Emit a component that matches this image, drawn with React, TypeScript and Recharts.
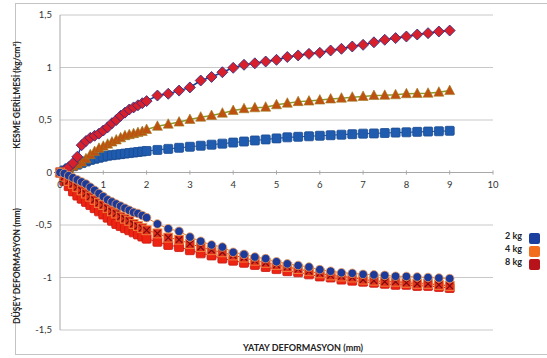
import React from 'react';
import { LineChart, Line, XAxis, YAxis, CartesianGrid, ReferenceLine, ReferenceDot } from 'recharts';

// yatay deformasyon (mm)
const xValues = [
  0, 0.1, 0.2, 0.3, 0.4, 0.5, 0.6, 0.7, 0.8, 0.9, 1, 1.1, 1.2, 1.3, 1.4, 1.5, 1.6, 1.7, 1.8, 1.9, 2,
  2.25, 2.5, 2.75, 3, 3.25, 3.5, 3.75, 4, 4.25, 4.5, 4.75, 5, 5.25, 5.5, 5.75, 6, 6.25, 6.5, 6.75, 7,
  7.25, 7.5, 7.75, 8, 8.25, 8.5, 8.75, 9,
];

// kesme gerilmesi (kg/cm2)
const shear2kg = [
  0, 0.02, 0.04, 0.06, 0.075, 0.09, 0.105, 0.12, 0.13, 0.14, 0.15, 0.16, 0.165, 0.17, 0.175, 0.18, 0.185, 0.19, 0.195, 0.2, 0.205,
  0.215, 0.225, 0.235, 0.245, 0.255, 0.265, 0.275, 0.285, 0.295, 0.305, 0.315, 0.325, 0.335, 0.34, 0.345, 0.35, 0.355, 0.36, 0.365, 0.37,
  0.372, 0.376, 0.38, 0.383, 0.387, 0.39, 0.393, 0.397,
];
const shear4kg = [
  0, 0.02, 0.04, 0.06, 0.08, 0.1, 0.13, 0.17, 0.2, 0.23, 0.25, 0.27, 0.29, 0.31, 0.33, 0.35, 0.36, 0.37, 0.38, 0.39, 0.41,
  0.44, 0.46, 0.48, 0.505, 0.527, 0.543, 0.565, 0.59, 0.607, 0.616, 0.622, 0.645, 0.66, 0.675, 0.68, 0.69, 0.7, 0.708, 0.717, 0.724,
  0.733, 0.735, 0.74, 0.75, 0.752, 0.755, 0.765, 0.78,
];
const shear8kg = [
  0, 0.02, 0.05, 0.09, 0.15, 0.26, 0.3, 0.33, 0.35, 0.37, 0.4, 0.43, 0.47, 0.5, 0.54, 0.57, 0.6, 0.62, 0.64, 0.66, 0.68,
  0.733, 0.75, 0.78, 0.81, 0.876, 0.91, 0.955, 0.997, 1.026, 1.04, 1.057, 1.073, 1.1, 1.115, 1.13, 1.14, 1.162, 1.178, 1.2, 1.216,
  1.24, 1.264, 1.28, 1.295, 1.314, 1.327, 1.343, 1.352,
];

// düşey deformasyon (mm)
const vert2kg = [
  0, -0.01, -0.03, -0.05, -0.07, -0.09, -0.11, -0.14, -0.17, -0.2, -0.23, -0.26, -0.28, -0.3, -0.32, -0.34, -0.36, -0.38, -0.39, -0.41, -0.43,
  -0.49, -0.535, -0.56, -0.615, -0.655, -0.69, -0.71, -0.76, -0.78, -0.805, -0.82, -0.85, -0.87, -0.885, -0.9, -0.925, -0.94, -0.955, -0.96, -0.97,
  -0.975, -0.98, -0.988, -0.99, -0.995, -1.0, -1.005, -1.01,
];
const vert4kg = [
  0, -0.04, -0.08, -0.11, -0.14, -0.17, -0.2, -0.23, -0.26, -0.29, -0.31, -0.34, -0.37, -0.39, -0.42, -0.44, -0.46, -0.49, -0.51, -0.53, -0.55,
  -0.58, -0.62, -0.64, -0.68, -0.71, -0.74, -0.76, -0.79, -0.81, -0.84, -0.86, -0.88, -0.9, -0.92, -0.94, -0.96, -0.98, -0.99, -1.0, -1.02,
  -1.03, -1.04, -1.04, -1.05, -1.06, -1.06, -1.07, -1.08,
];
const vert8kg = [
  0, -0.08, -0.13, -0.18, -0.22, -0.25, -0.28, -0.31, -0.34, -0.37, -0.4, -0.43, -0.46, -0.49, -0.51, -0.53, -0.55, -0.57, -0.59, -0.61, -0.63,
  -0.66, -0.69, -0.71, -0.74, -0.77, -0.79, -0.82, -0.84, -0.86, -0.88, -0.9, -0.92, -0.94, -0.95, -0.97, -0.99, -1.0, -1.02, -1.03, -1.04,
  -1.05, -1.06, -1.07, -1.07, -1.08, -1.08, -1.09, -1.1,
];

const xTicks = [0, 1, 2, 3, 4, 5, 6, 7, 8, 9, 10];
const yTicks = [-1.5, -1, -0.5, 0, 0.5, 1, 1.5];
const legendItems = [
  { label: '2 kg', color: '#1b3f9e' },
  { label: '4 kg', color: '#f26d1d' },
  { label: '8 kg', color: '#b8121a' },
];

const data = xValues.map((x, i) => ({
  x,
  shear2: shear2kg[i],
  shear4: shear4kg[i],
  shear8: shear8kg[i],
  vert2: vert2kg[i],
  vert4: vert4kg[i],
  vert8: vert8kg[i],
}));

const fmt = (v: number) => String(v).replace('.', ',');
const font = 'Lato, "Open Sans", sans-serif';

const squareDot = (fill: string, stroke: string) => (p: any) => {
  if (p.cx == null || p.cy == null) return <g key={p.index} />;
  return <rect key={p.index} x={p.cx - 4.5} y={p.cy - 4.5} width={9} height={9} rx={1} fill={fill} stroke={stroke} strokeWidth={0.8} />;
};

const triangleDot = (p: any) => {
  if (p.cx == null || p.cy == null) return <g key={p.index} />;
  const { cx, cy } = p;
  return (
    <path
      key={p.index}
      d={`M${cx},${cy - 5.5} L${cx + 5},${cy + 4} L${cx - 5},${cy + 4} Z`}
      fill="#c0500f"
      stroke="#9a7a20"
      strokeWidth={0.6}
    />
  );
};

const diamondDot = (p: any) => {
  if (p.cx == null || p.cy == null) return <g key={p.index} />;
  const { cx, cy } = p;
  return (
    <path
      key={p.index}
      d={`M${cx},${cy - 5.5} L${cx + 5.5},${cy} L${cx},${cy + 5.5} L${cx - 5.5},${cy} Z`}
      fill="#d8202c"
      stroke="#2a2a80"
      strokeWidth={0.8}
    />
  );
};

const circleDot = (p: any) => {
  if (p.cx == null || p.cy == null) return <g key={p.index} />;
  return <circle key={p.index} cx={p.cx} cy={p.cy} r={4.3} fill="#1b3a9a" stroke="#f0a060" strokeWidth={0.8} />;
};

const crossDot = (p: any) => {
  if (p.cx == null || p.cy == null) return <g key={p.index} />;
  const { cx, cy } = p;
  return (
    <g key={p.index}>
      <rect x={cx - 4.5} y={cy - 4.5} width={9} height={9} fill="#e0301c" stroke="#f08a40" strokeWidth={0.8} />
      <path d={`M${cx - 3.2},${cy - 3.2} L${cx + 3.2},${cy + 3.2} M${cx + 3.2},${cy - 3.2} L${cx - 3.2},${cy + 3.2}`} stroke="#7a0a10" strokeWidth={1.2} />
    </g>
  );
};

const axisTitle: React.CSSProperties = {
  position: 'absolute',
  fontFamily: font,
  fontWeight: 700,
  fontSize: 8.5,
  color: '#222',
  whiteSpace: 'nowrap',
};

export default function App() {
  return (
    <div style={{ position: 'absolute', left: 0, top: 0, width: 547, height: 358, background: '#fff', overflow: 'hidden' }}>
      <div
        style={{
          position: 'absolute',
          left: 15,
          top: 3,
          width: 545,
          height: 352,
          border: '1.5px solid #c4c4c4',
          boxSizing: 'border-box',
        }}
      />
      <LineChart
        width={547}
        height={358}
        data={data}
        margin={{ top: 15, right: 54, bottom: 28, left: 0 }}
        style={{ fontFamily: font, position: 'absolute', left: 0, top: 0 }}
      >
        <CartesianGrid vertical={false} stroke="#c8c8c8" />
        <XAxis type="number" dataKey="x" domain={[0, 10]} ticks={xTicks} hide />
        <YAxis
          type="number"
          domain={[-1.5, 1.5]}
          ticks={yTicks}
          tickFormatter={fmt}
          width={60}
          axisLine={{ stroke: '#a8a8a8' }}
          tickLine={false}
          tickMargin={2}
          tick={{ fontSize: 9.5, fill: '#333' }}
        />
        <ReferenceLine y={0} stroke="#a8a8a8" />
        {xTicks.map((t) => (
          <ReferenceLine
            key={`tk${t}`}
            segment={[
              { x: t, y: -0.02 },
              { x: t, y: 0.02 },
            ]}
            stroke="#a8a8a8"
          />
        ))}
        {xTicks.map((t) => (
          <ReferenceDot
            key={`lb${t}`}
            x={t}
            y={0}
            r={0}
            fill="none"
            stroke="none"
            label={{ value: fmt(t), position: 'bottom', offset: 9, fontSize: 9.5, fill: '#333' }}
          />
        ))}
        <Line dataKey="shear2" stroke="#2a62b0" strokeWidth={1.2} dot={squareDot('#1f5cb0', '#1a4a90')} isAnimationActive={false} />
        <Line dataKey="shear4" stroke="#8a9a2a" strokeWidth={1.5} dot={triangleDot} isAnimationActive={false} />
        <Line dataKey="shear8" stroke="#1f3a90" strokeWidth={1.5} dot={diamondDot} isAnimationActive={false} />
        <Line dataKey="vert8" stroke="#e02010" strokeWidth={1} dot={squareDot('#ee2412', '#c81810')} isAnimationActive={false} />
        <Line dataKey="vert4" stroke="#c03020" strokeWidth={1} dot={crossDot} isAnimationActive={false} />
        <Line dataKey="vert2" stroke="#e07a30" strokeWidth={1} dot={circleDot} isAnimationActive={false} />
      </LineChart>
      <div style={{ ...axisTitle, left: 17, top: 95, transform: 'translate(-50%, -50%) rotate(-90deg)' }}>
        KESME GERİLMESİ (kg/cm²)
      </div>
      <div style={{ ...axisTitle, left: 17, top: 266, transform: 'translate(-50%, -50%) rotate(-90deg)' }}>
        DÜŞEY DEFORMASYON (mm)
      </div>
      <div style={{ ...axisTitle, fontSize: 9, left: 303, top: 347, transform: 'translate(-50%, -50%)' }}>
        YATAY DEFORMASYON (mm)
      </div>
      <div style={{ position: 'absolute', left: 505, top: 229, fontFamily: font, fontWeight: 700, fontSize: 9, color: '#222' }}>
        {legendItems.map((it) => (
          <div key={it.label} style={{ display: 'flex', alignItems: 'center', height: 13 }}>
            <span style={{ width: 24 }}>{it.label}</span>
            <span style={{ width: 11, height: 11, background: it.color, borderRadius: 2, marginTop: 6 }} />
          </div>
        ))}
      </div>
    </div>
  );
}
